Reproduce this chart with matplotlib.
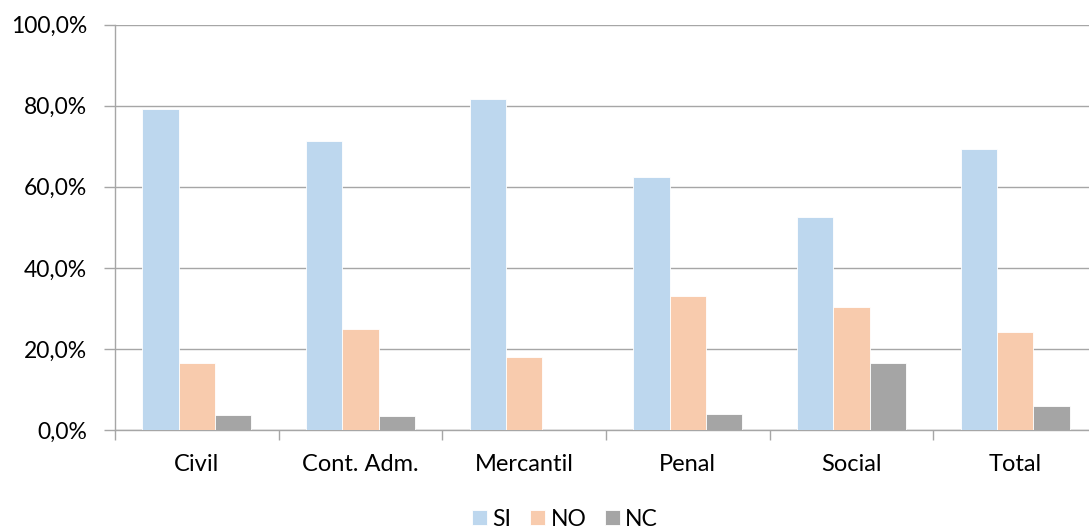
import matplotlib
matplotlib.use("Agg")
import matplotlib.pyplot as plt
import numpy as np
from matplotlib.ticker import FuncFormatter

categories = ["Civil", "Cont. Adm.", "Mercantil", "Penal", "Social", "Total"]
si = [79.3, 71.3, 81.6, 62.3, 52.6, 69.4]
no = [16.5, 24.9, 18.0, 33.2, 30.5, 24.2]
nc = [3.8, 3.5, 0.0, 4.0, 16.5, 5.9]
series_names = ["SI", "NO", "NC"]
colors = ["#BDD7EE", "#F8CBAD", "#A5A5A5"]

plt.rcParams['font.family'] = ['Lato', 'DejaVu Sans']

W, H = 1089, 529
fig = plt.figure(figsize=(W / 100, H / 100), dpi=100)
left, right, bottom, top = 115, 1097, 430.3, 24.5
ax = fig.add_axes([left / W, 1 - bottom / H, (right - left) / W, (bottom - top) / H])

x = np.arange(len(categories))
bw = 1 / 4.5
for i, (vals, name, c) in enumerate(zip([si, no, nc], series_names, colors)):
    ax.bar(x + (i - 1) * bw, vals, width=bw, color=c, label=name,
           edgecolor="white", linewidth=0.6, zorder=3)

ax.set_xlim(-0.5, len(categories) - 0.5)
ax.set_ylim(0, 100)
ax.set_yticks(np.arange(0, 101, 20))
ax.yaxis.set_major_formatter(FuncFormatter(lambda v, p: f"{v:.1f}%".replace(".", ",")))
ax.set_xticks(x)
ax.set_xticklabels(categories)
ax.set_xticks(np.arange(-0.5, len(categories), 1), minor=True)
ax.tick_params(axis="x", which="major", length=0, pad=17, labelsize=17)
ax.tick_params(axis="x", which="minor", length=7, color="#A6A6A6", width=1)
ax.tick_params(axis="y", length=8, color="#A6A6A6", width=1, labelsize=16.5, pad=12)

ax.grid(axis="y", color="#A6A6A6", linewidth=1, zorder=0)
for s in ["top", "right"]:
    ax.spines[s].set_visible(False)
ax.spines["left"].set_color("#A6A6A6")
ax.spines["bottom"].set_color("#A6A6A6")
ax.spines["left"].set_linewidth(1)
ax.spines["bottom"].set_linewidth(1)

fig.legend(loc="center", bbox_to_anchor=(565 / W, 1 - 519 / H), ncol=3, frameon=False,
           fontsize=16.5, handlelength=0.65, handleheight=0.65, handletextpad=0.25,
           columnspacing=0.8, borderpad=0)

fig.savefig("out.png", dpi=100)
